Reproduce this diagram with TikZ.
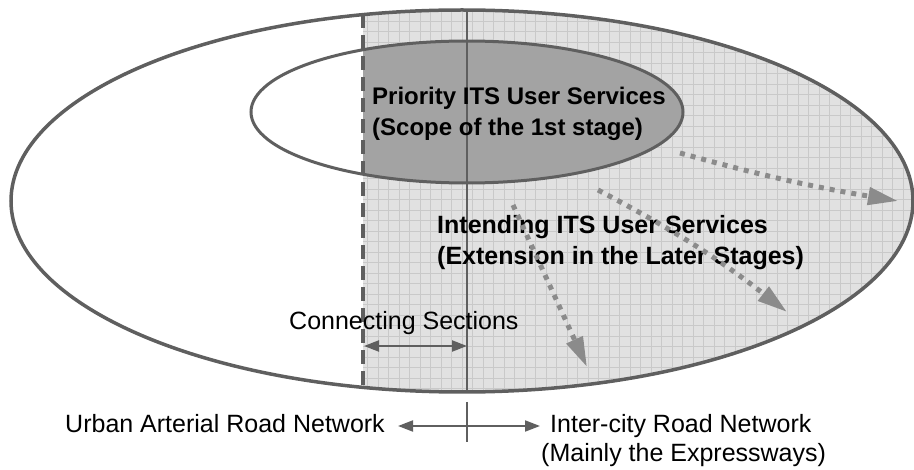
\documentclass[tikz,border=0pt]{standalone}
\usepackage{fontspec}
\setmainfont{Liberation Sans}
\usetikzlibrary{arrows.meta}
\definecolor{linegray}{HTML}{5F5F5F}
\definecolor{lightfill}{HTML}{E1E1E1}
\definecolor{gridcol}{HTML}{C9C9C9}
\definecolor{darkfill}{HTML}{A3A3A3}
\definecolor{dotgray}{HTML}{8B8B8B}
\begin{document}
\begin{tikzpicture}[x=1pt,y=-1pt,
  outline/.style={draw=linegray, line width=3.5pt},
  dotarrow/.style={draw=dotgray, line width=5pt, dash pattern=on 5pt off 6pt,
     -{Triangle[length=30pt,width=17pt,fill=dotgray]}},
  dimarrow/.style={draw=linegray, line width=2.2pt},
  dimtip/.style={-{Triangle[length=15pt,width=11pt]}},
  boldlbl/.style={font=\fontsize{24}{29}\selectfont\bfseries, anchor=base west, inner sep=0pt},
  lbl/.style={font=\fontsize{25}{30}\selectfont, inner sep=0pt}]
\useasboundingbox (0,0) rectangle (914,470);

% shaded region (right of the dashed boundary)
\begin{scope}
  \clip (363,0) rectangle (920,470);
  \fill[lightfill] (462,201) ellipse [x radius=451pt, y radius=191pt];
  \clip (462,201) ellipse [x radius=451pt, y radius=191pt];
  \draw[gridcol, line width=0.8pt] (363,0) grid[step=10.5pt] (920,470);
  \fill[darkfill] (467,112) ellipse [x radius=216pt, y radius=71pt];
\end{scope}

% boundaries
\coordinate (dTop) at (363,14.5);
\coordinate (dBot) at (363,387.5);
\coordinate (sTop) at (467,10);
\coordinate (sBot) at (467,392);
\draw[draw=linegray, line width=4pt, dash pattern=on 14pt off 7pt] (dTop) -- (dBot);
\draw[draw=linegray, line width=2.6pt] (sTop) -- (sBot);

% ellipses
\draw[outline] (462,201) ellipse [x radius=451pt, y radius=191pt];
\draw[outline, line width=3pt] (467,112) ellipse [x radius=216pt, y radius=71pt];

% texts
\node[boldlbl] (pri1) at (372,105) {Priority ITS User Services};
\node[boldlbl] (pri2) at (372,136) {(Scope of the 1st stage)};
\node[boldlbl, font=\fontsize{25}{30}\selectfont\bfseries] (int1) at (437,234) {Intending ITS User Services};
\node[boldlbl, font=\fontsize{25}{30}\selectfont\bfseries] (int2) at (437,265) {(Extension in the Later Stages)};
\node[lbl, anchor=base west] (conn) at (289,330) {Connecting Sections};
\node[lbl, anchor=base east] (urban) at (385,433) {Urban Arterial Road Network};
\node[lbl, anchor=base west] (inter) at (550,433) {Inter-city Road Network};
\node[lbl, anchor=base west] (mainly) at (541,462) {(Mainly the Expressways)};

% dotted extension arrows
\coordinate (a1s) at (680,153);
\coordinate (a1e) at (898,201);
\coordinate (a2s) at (598,190);
\coordinate (a2e) at (787,312);
\coordinate (a3s) at (513,205);
\coordinate (a3e) at (587,367);
\draw[dotarrow] (a1s) to[bend right=3] (a1e);
\draw[dotarrow] (a2s) to[bend left=5] (a2e);
\draw[dotarrow] (a3s) -- (a3e);

% connecting sections dimension
\coordinate (cL) at (364,346);
\coordinate (cR) at (467,346);
\draw[dimarrow, {Triangle[length=15pt,width=11pt]}-{Triangle[length=15pt,width=11pt]}] (cL) -- (cR);

% bottom divider arrows
\coordinate (tT) at (467,402);
\coordinate (tB) at (467,442);
\coordinate (tM) at (467,426);
\coordinate (tL) at (398,426);
\coordinate (tR) at (540,426);
\draw[dimarrow, line width=2pt] (tT) -- (tB);
\draw[dimarrow, line width=2pt, dimtip] (tM) -- (tL);
\draw[dimarrow, line width=2pt, dimtip] (tM) -- (tR);
\end{tikzpicture}
\end{document}
